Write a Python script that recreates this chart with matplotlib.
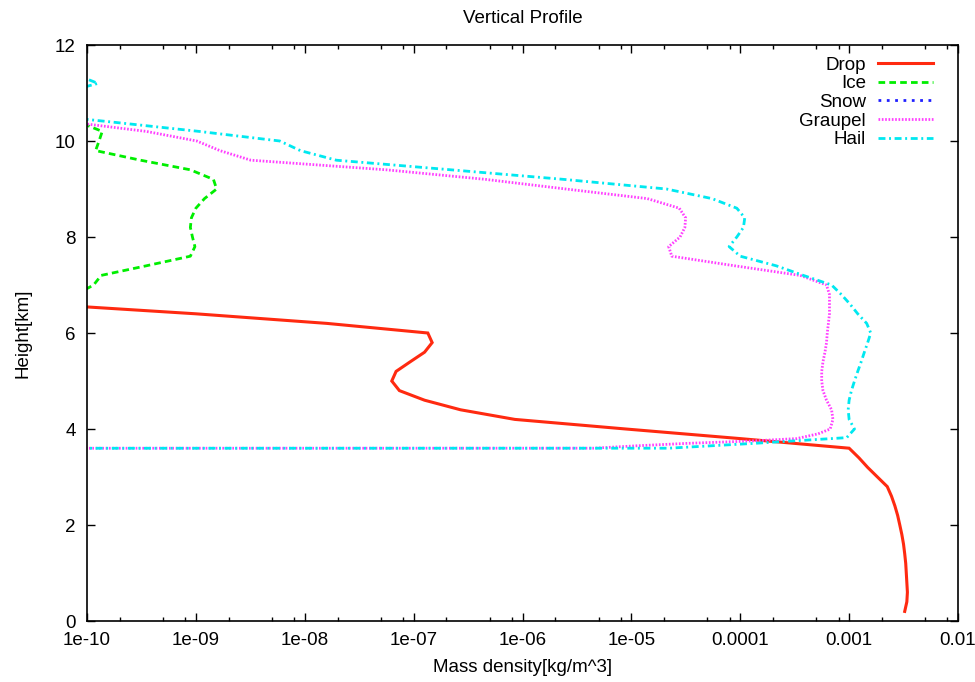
import matplotlib
matplotlib.use("Agg")
import matplotlib.pyplot as plt
from matplotlib.ticker import FixedLocator, FixedFormatter, NullFormatter

plt.rcParams['font.family'] = ['Liberation Sans', 'DejaVu Sans']

# ---- data (height in km, mass density in kg/m^3) ----
drop_h = [0.2, 0.4, 0.6, 0.8, 1.0, 1.2, 1.4, 1.6, 1.8, 2.0, 2.2, 2.4, 2.6, 2.8,
          3.0, 3.2, 3.4, 3.6, 3.8, 4.0, 4.2, 4.4, 4.6, 4.8, 5.0, 5.2, 5.4, 5.6,
          5.8, 6.0, 6.2, 6.4, 6.6]
drop_v = [3.24e-3, 3.39e-3, 3.43e-3, 3.39e-3, 3.35e-3, 3.31e-3, 3.24e-3, 3.16e-3,
          3.05e-3, 2.92e-3, 2.79e-3, 2.63e-3, 2.45e-3, 2.24e-3, 1.82e-3, 1.48e-3,
          1.23e-3, 1.0e-3, 1.0e-4, 8.9e-6, 8.5e-7, 2.7e-7, 1.26e-7, 7.4e-8,
          6.3e-8, 6.9e-8, 9.3e-8, 1.26e-7, 1.48e-7, 1.35e-7, 1.6e-8, 1.0e-9, 4.0e-11]

ice_h = [6.8, 7.0, 7.2, 7.4, 7.6, 7.8, 8.0, 8.2, 8.4, 8.6, 8.8, 9.0, 9.2, 9.4,
         9.6, 9.8, 10.0, 10.2, 10.4]
ice_v = [7.9e-11, 1.15e-10, 1.35e-10, 3.5e-10, 8.9e-10, 9.8e-10, 9.3e-10, 8.9e-10,
         9.1e-10, 1.0e-9, 1.2e-9, 1.55e-9, 1.45e-9, 8.9e-10, 3.1e-10, 1.2e-10,
         1.29e-10, 1.38e-10, 8.3e-11]

snow_h = []
snow_v = []

graupel_h = [3.4, 3.6, 3.65, 3.7, 3.75, 3.8, 3.9, 4.0, 4.2, 4.4, 4.6, 4.8, 5.0,
             5.2, 5.4, 5.6, 5.8, 6.0, 6.2, 6.4, 6.6, 6.8, 7.0, 7.2, 7.4, 7.6,
             7.8, 8.0, 8.2, 8.4, 8.6, 8.8, 9.0, 9.2, 9.4, 9.6, 9.8, 10.0, 10.2,
             10.4, 10.6]
graupel_v = [0.0, 4.5e-6, 1.12e-5, 3.2e-5, 1.26e-4, 3.3e-4, 5.2e-4, 6.7e-4,
             7.1e-4, 6.9e-4, 6.2e-4, 5.75e-4, 5.6e-4, 5.6e-4, 5.75e-4, 6.0e-4,
             6.2e-4, 6.3e-4, 6.45e-4, 6.6e-4, 6.6e-4, 6.6e-4, 6.2e-4, 3.55e-4,
             8.9e-5, 2.35e-5, 2.2e-5, 2.8e-5, 3.1e-5, 3.15e-5, 2.75e-5, 1.4e-5,
             2.5e-6, 4.6e-7, 5.6e-8, 3.2e-9, 1.66e-9, 1.02e-9, 3.5e-10, 6.8e-11,
             1.0e-11]

hail_h = [3.4, 3.6, 3.7, 3.82, 4.0, 4.2, 4.4, 4.6, 4.8, 5.0, 5.2, 5.4, 5.6, 5.8,
          6.0, 6.2, 6.4, 6.6, 6.8, 7.0, 7.2, 7.4, 7.6, 7.8, 8.0, 8.2, 8.4, 8.6,
          8.8, 9.0, 9.2, 9.4, 9.6, 9.8, 10.0, 10.2, 10.4, 10.6, 10.8, 11.0,
          11.2, 11.4, 11.6]
hail_v = [0.0, 2.2e-5, 1.32e-4, 9.5e-4, 1.12e-3, 1.0e-3, 9.8e-4, 1.0e-3,
          1.05e-3, 1.12e-3, 1.2e-3, 1.29e-3, 1.38e-3, 1.48e-3, 1.58e-3, 1.45e-3,
          1.2e-3, 1.02e-3, 8.5e-4, 6.9e-4, 3.8e-4, 2.14e-4, 1.0e-4, 7.9e-5,
          9.3e-5, 1.07e-4, 1.1e-4, 9.3e-5, 5.5e-5, 2.1e-5, 2.4e-6, 2.2e-7,
          1.95e-8, 9.1e-9, 5.9e-9, 1.07e-9, 1.62e-10, 2.3e-11, 1.6e-11, 5.9e-11,
          1.26e-10, 7.6e-11, 1.0e-11]

xtick_vals = [1e-10, 1e-9, 1e-8, 1e-7, 1e-6, 1e-5, 1e-4, 1e-3, 1e-2]
xtick_labels = ["1e-10", "1e-09", "1e-08", "1e-07", "1e-06", "1e-05",
                "0.0001", "0.001", "0.01"]
ytick_vals = [0, 2, 4, 6, 8, 10, 12]

# ---- figure ----
fig = plt.figure(figsize=(9.75, 6.82), dpi=100)
ax = fig.add_axes([87 / 975, 1 - 621 / 682, (958 - 87) / 975, (621 - 45) / 682])

lw = 2.0
ax.plot(drop_v, drop_h, color='#ff2a10', lw=2.2, label='Drop', solid_joinstyle='miter')
ax.plot(ice_v, ice_h, color='#00ee00', lw=lw, dashes=(2.4, 1.5), label='Ice')
ax.plot(snow_v, snow_h, color='#2020ff', lw=lw, dashes=(1.0, 2.0), label='Snow')
ax.plot(graupel_v, graupel_h, color='#ff40ff', lw=lw, dashes=(0.6, 0.6), label='Graupel')
ax.plot(hail_v, hail_h, color='#00e8f0', lw=lw, dashes=(2.5, 1.3, 0.7, 1.3), label='Hail')

ax.set_xscale('log')
ax.set_xlim(1e-10, 1e-2)
ax.set_ylim(0, 12)

ax.xaxis.set_major_locator(FixedLocator(xtick_vals))
ax.xaxis.set_major_formatter(FixedFormatter(xtick_labels))
minor = [m * 10.0 ** e for e in range(-10, -2) for m in (2, 5, 8)]
ax.xaxis.set_minor_locator(FixedLocator(minor))
ax.xaxis.set_minor_formatter(NullFormatter())
ax.yaxis.set_major_locator(FixedLocator(ytick_vals))

fs = 13.5
ax.tick_params(which='both', direction='in', top=True, right=True, labelsize=fs,
               width=1.0, color='black')
ax.tick_params(which='major', length=6, pad=8)
ax.tick_params(which='minor', length=3)
for s in ax.spines.values():
    s.set_linewidth(1.2)

ax.set_title('Vertical Profile', fontsize=fs, pad=15.5)
ax.set_xlabel('Mass density[kg/m^3]', fontsize=fs, labelpad=7)
ax.set_ylabel('Height[km]', fontsize=fs, labelpad=17)

leg = ax.legend(loc='upper right', bbox_to_anchor=(933 / 975, 1 - 56.5 / 682),
                bbox_transform=fig.transFigure, frameon=False, markerfirst=False,
                fontsize=fs, handlelength=2.95, handletextpad=0.62,
                labelspacing=0.08, borderaxespad=0, borderpad=0)

fig.savefig('out.png', dpi=100)
